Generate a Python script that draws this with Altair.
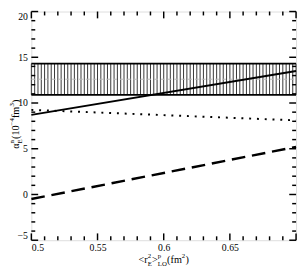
import altair as alt
import pandas as pd
import numpy as np

# ---- data ----
x_ends = [0.5, 0.7]
solid_y = [8.7, 13.5]
dotted_y = [9.25, 8.1]
dashed_y = [-0.5, 5.2]
band_lo = [10.9]
band_hi = [14.3]
band_mid = [12.6]

x_major = [0.5, 0.55, 0.6, 0.65, 0.7]
x_labels = [0.5, 0.55, 0.6, 0.65]
x_minor = [0.51, 0.52, 0.53, 0.54, 0.56, 0.57, 0.58, 0.59, 0.61, 0.62, 0.63, 0.64, 0.66, 0.67, 0.68, 0.69]
y_major = [-5, 0, 5, 10, 15, 20]
y_minor = [-4, -3, -2, -1, 1, 2, 3, 4, 6, 7, 8, 9, 11, 12, 13, 14, 16, 17, 18, 19]

W, H = 272, 235
FONT = "Liberation Serif"

xs = alt.Scale(domain=[0.5, 0.7], nice=False, zero=False)
ys = alt.Scale(domain=[-5, 20], nice=False, zero=False)
AX = alt.Axis(values=x_labels, format=".2~f", title=None, ticks=False, tickSize=0, domain=False,
              grid=False, labelFont=FONT, labelFontSize=10, labelColor="black", labelPadding=3)
AY = alt.Axis(values=y_major, format="d", title=None, ticks=False, tickSize=0, domain=False,
              grid=False, labelFont=FONT, labelFontSize=10, labelColor="black", labelPadding=4,
              labelFlush=True)

lines = pd.DataFrame({
    "x": x_ends * 3,
    "y": solid_y + dotted_y + dashed_y,
    "s": ["solid"] * 2 + ["dotted"] * 2 + ["dashed"] * 2,
})

band_df = pd.DataFrame({"x": [x_ends[0]], "x2": [x_ends[1]], "lo": band_lo, "hi": band_hi, "mid": band_mid})
hatch_df = pd.DataFrame({"x": np.round(np.arange(0.5, 0.7001, 0.0025), 4)})
hatch_df["lo"] = band_lo[0]
hatch_df["hi"] = band_hi[0]


def X(f):
    return alt.X(f, scale=xs, axis=AX)


def Y(f):
    return alt.Y(f, scale=ys, axis=AY)


solid = alt.Chart(lines).transform_filter(alt.datum.s == "solid").mark_line(
    color="black", strokeWidth=2
).encode(x=X("x:Q"), y=Y("y:Q"))

hatch = alt.Chart(hatch_df).mark_rule(color="#333333", strokeWidth=1).encode(
    x=X("x:Q"), y=Y("lo:Q"), y2="hi:Q")
band_lines = alt.Chart(band_df).transform_fold(["lo", "hi"], as_=["k", "v"]).mark_rule(
    color="black", strokeWidth=1.8
).encode(x=X("x:Q"), x2="x2:Q", y=Y("v:Q"))
mid_line = alt.Chart(band_df).mark_rule(color="#bbbbbb", strokeWidth=1, strokeDash=[4, 3]).encode(
    x=X("x:Q"), x2="x2:Q", y=Y("mid:Q"))

dotted = alt.Chart(lines).transform_filter(alt.datum.s == "dotted").mark_line(
    color="black", strokeWidth=2, strokeDash=[2, 6]
).encode(x=X("x:Q"), y=Y("y:Q"))

dashed = alt.Chart(lines).transform_filter(alt.datum.s == "dashed").mark_line(
    color="black", strokeWidth=2.5, strokeDash=[14, 7]
).encode(x=X("x:Q"), y=Y("y:Q"))


# inward ticks on all four sides
def yticks(vals, length):
    df = pd.DataFrame({"v": vals})
    left = alt.Chart(df).mark_rule(color="black", strokeWidth=1.5).encode(
        y=Y("v:Q"), x=alt.value(0), x2=alt.value(length))
    right = alt.Chart(df).mark_rule(color="black", strokeWidth=1.5).encode(
        y=Y("v:Q"), x=alt.value(W - length), x2=alt.value(W))
    return [left, right]


def xticks(vals, length):
    df = pd.DataFrame({"v": vals})
    bottom = alt.Chart(df).mark_rule(color="black", strokeWidth=1.5).encode(
        x=X("v:Q"), y=alt.value(H - length), y2=alt.value(H))
    top = alt.Chart(df).mark_rule(color="black", strokeWidth=1.5).encode(
        x=X("v:Q"), y=alt.value(0), y2=alt.value(length))
    return [bottom, top]


ticks = yticks(y_major, 7) + yticks(y_minor, 4) + xticks(x_major, 7) + xticks(x_minor, 4)

# axis titles with sub/superscripts (pixel positions relative to plot area)
ytitle = [("α", -13, 141, 10.5), ("n", -18, 135.5, 7), ("E", -10, 135.5, 7), ("(10", -13, 131, 10.5),
          ("−4", -18, 117, 7), ("fm", -13, 109.5, 10.5), ("3", -18, 97.5, 7), (")", -13, 94, 10.5)]
xtitle = [("<r", 110, 258, 10.5), ("2", 119.5, 253, 7), ("E", 119.5, 262, 7), (">", 124, 258, 10.5),
          ("p", 130, 253, 7), ("LO", 130, 262, 7), ("(fm", 139.5, 258, 10.5), ("2", 154.5, 253, 7),
          (")", 158.3, 258, 10.5)]

one = pd.DataFrame({"a": [0]})
texts = []
for t, px, py, fs in ytitle:
    texts.append(alt.Chart(one).mark_text(text=t, font=FONT, fontSize=fs, color="black", align="left",
                                          baseline="alphabetic", angle=270).encode(
        x=alt.value(px), y=alt.value(py)))
for t, px, py, fs in xtitle:
    texts.append(alt.Chart(one).mark_text(text=t, font=FONT, fontSize=fs, color="black", align="left",
                                          baseline="alphabetic").encode(
        x=alt.value(px), y=alt.value(py)))

chart = alt.layer(
    hatch, mid_line, band_lines, dotted, dashed, solid, *ticks, *texts
).properties(
    width=W, height=H,
    autosize=alt.AutoSizeParams(type="none"),
    padding={"left": 24, "top": 0, "right": 2, "bottom": 28},
).configure_view(stroke="black", strokeWidth=2).configure(background="white")

chart.save("out.html", embed_options={"renderer": "svg", "actions": False})
